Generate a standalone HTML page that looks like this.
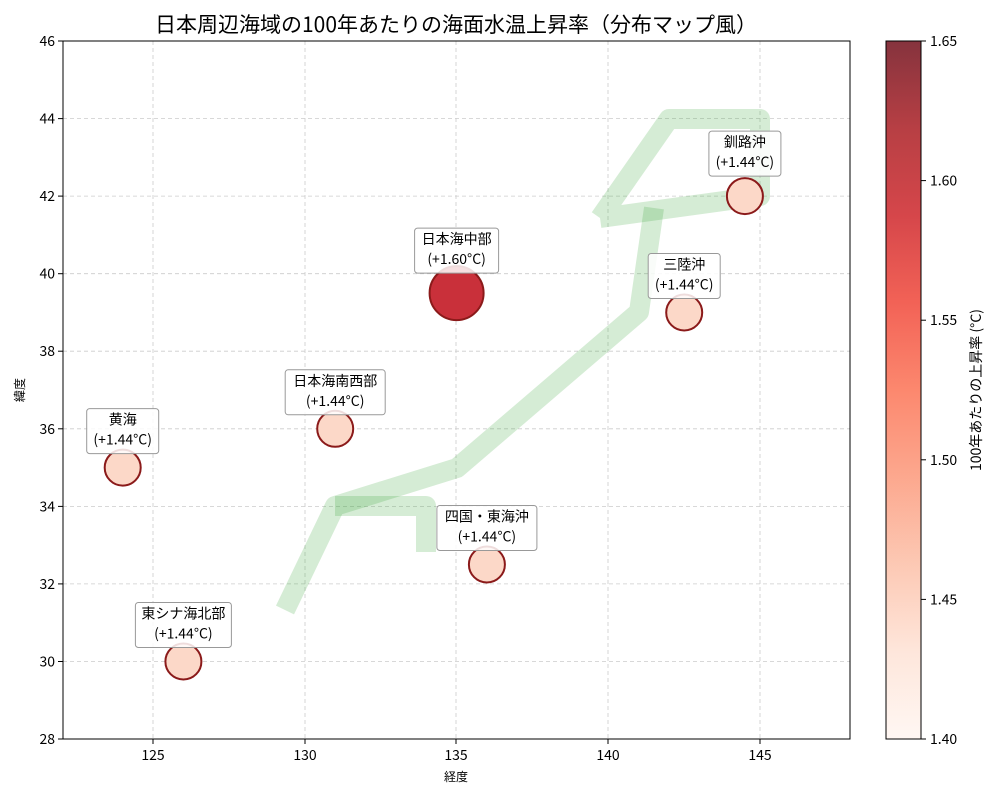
<!DOCTYPE html>
<html><head><meta charset="utf-8"><style>
html,body{margin:0;padding:0;background:#fff;}
svg{display:block;font-family:"Noto Sans CJK JP","Liberation Sans",sans-serif;}
</style></head><body>
<svg width="1000" height="800" viewBox="0 0 1000 800" xmlns="http://www.w3.org/2000/svg">
<defs>
<linearGradient id="cb" x1="0" y1="1" x2="0" y2="0">
<stop offset="0" stop-color="#fff5f0"/>
<stop offset="0.125" stop-color="#fee0d2"/>
<stop offset="0.25" stop-color="#fcbba1"/>
<stop offset="0.375" stop-color="#fc9272"/>
<stop offset="0.5" stop-color="#fb6a4a"/>
<stop offset="0.625" stop-color="#ef3b2c"/>
<stop offset="0.75" stop-color="#cb181d"/>
<stop offset="0.875" stop-color="#a50f15"/>
<stop offset="1" stop-color="#67000d"/>
</linearGradient>
</defs>
<text x="456" y="32" font-size="21" text-anchor="middle" fill="#000">日本周辺海域の100年あたりの海面水温上昇率（分布マップ風）</text>
<g stroke="#cccccc" stroke-width="0.8" stroke-dasharray="4,3">
<line x1="153" y1="41" x2="153" y2="739"/><line x1="305" y1="41" x2="305" y2="739"/><line x1="456" y1="41" x2="456" y2="739"/><line x1="608" y1="41" x2="608" y2="739"/><line x1="760" y1="41" x2="760" y2="739"/>
<line x1="63" y1="118.6" x2="850" y2="118.6"/><line x1="63" y1="196.1" x2="850" y2="196.1"/><line x1="63" y1="273.7" x2="850" y2="273.7"/><line x1="63" y1="351.2" x2="850" y2="351.2"/><line x1="63" y1="428.8" x2="850" y2="428.8"/><line x1="63" y1="506.4" x2="850" y2="506.4"/><line x1="63" y1="583.9" x2="850" y2="583.9"/><line x1="63" y1="661.5" x2="850" y2="661.5"/>
</g>
<g fill="none" stroke="rgb(44,160,44)" stroke-opacity="0.2" stroke-width="20" stroke-linejoin="round">
<polyline points="285,610 335,506 457,468 639,312 654,208"/>
<polyline points="600,218 669,119 760,119 760,196 600,218"/>
<polyline points="335,506 426,506 426,552"/>
</g>
<g stroke="#8b1a1a" stroke-width="2">
<circle cx="122.7" cy="467.6" r="18" fill="#fcd8c8"/>
<circle cx="183.4" cy="661.5" r="18" fill="#fcd8c8"/>
<circle cx="335.2" cy="428.8" r="18" fill="#fcd8c8"/>
<circle cx="486.9" cy="564.5" r="18" fill="#fcd8c8"/>
<circle cx="684.2" cy="312.5" r="18" fill="#fcd8c8"/>
<circle cx="744.9" cy="196.1" r="18" fill="#fcd8c8"/>
<circle cx="456.6" cy="293.1" r="27" fill="#c9303a"/>
</g>
<g font-size="14" text-anchor="middle" fill="#000">
<g transform="translate(122.7,467.6)"><rect x="-36" y="-59" width="72" height="45" rx="3" fill="#fff" fill-opacity="0.85" stroke="#999"/><text y="-43">黄海</text><text y="-23">(+1.44°C)</text></g>
<g transform="translate(183.4,661.5)"><rect x="-48" y="-59" width="96" height="45" rx="3" fill="#fff" fill-opacity="0.85" stroke="#999"/><text y="-43">東シナ海北部</text><text y="-23">(+1.44°C)</text></g>
<g transform="translate(335.2,428.8)"><rect x="-50" y="-59" width="100" height="45" rx="3" fill="#fff" fill-opacity="0.85" stroke="#999"/><text y="-43">日本海南西部</text><text y="-23">(+1.44°C)</text></g>
<g transform="translate(486.9,564.5)"><rect x="-50" y="-59" width="100" height="45" rx="3" fill="#fff" fill-opacity="0.85" stroke="#999"/><text y="-43">四国・東海沖</text><text y="-23">(+1.44°C)</text></g>
<g transform="translate(684.2,312.5)"><rect x="-36" y="-59" width="72" height="45" rx="3" fill="#fff" fill-opacity="0.85" stroke="#999"/><text y="-43">三陸沖</text><text y="-23">(+1.44°C)</text></g>
<g transform="translate(744.9,196.1)"><rect x="-36" y="-65" width="72" height="45" rx="3" fill="#fff" fill-opacity="0.85" stroke="#999"/><text y="-49">釧路沖</text><text y="-29">(+1.44°C)</text></g>
<g transform="translate(456.6,293.1)"><rect x="-42" y="-65" width="84" height="45" rx="3" fill="#fff" fill-opacity="0.85" stroke="#999"/><text y="-49">日本海中部</text><text y="-29">(+1.60°C)</text></g>
</g>
<rect x="63" y="41" width="787" height="698" fill="none" stroke="#000" stroke-width="1"/>
<g stroke="#000">
<line x1="153" y1="739" x2="153" y2="744"/><line x1="305" y1="739" x2="305" y2="744"/><line x1="456" y1="739" x2="456" y2="744"/><line x1="608" y1="739" x2="608" y2="744"/><line x1="760" y1="739" x2="760" y2="744"/>
<line x1="58" y1="41" x2="63" y2="41"/><line x1="58" y1="118.6" x2="63" y2="118.6"/><line x1="58" y1="196.1" x2="63" y2="196.1"/><line x1="58" y1="273.7" x2="63" y2="273.7"/><line x1="58" y1="351.2" x2="63" y2="351.2"/><line x1="58" y1="428.8" x2="63" y2="428.8"/><line x1="58" y1="506.4" x2="63" y2="506.4"/><line x1="58" y1="583.9" x2="63" y2="583.9"/><line x1="58" y1="661.5" x2="63" y2="661.5"/><line x1="58" y1="739" x2="63" y2="739"/>
</g>
<g font-size="14" fill="#000" text-anchor="middle">
<text x="153" y="760">125</text><text x="305" y="760">130</text><text x="456" y="760">135</text><text x="608" y="760">140</text><text x="760" y="760">145</text>
</g>
<g font-size="14" fill="#000" text-anchor="end">
<text x="55" y="46">46</text><text x="55" y="123.6">44</text><text x="55" y="201.1">42</text><text x="55" y="278.7">40</text><text x="55" y="356.2">38</text><text x="55" y="433.8">36</text><text x="55" y="511.4">34</text><text x="55" y="588.9">32</text><text x="55" y="666.5">30</text><text x="55" y="744">28</text>
</g>
<text x="456" y="781" font-size="12" text-anchor="middle">経度</text>
<text transform="translate(24,390) rotate(-90)" font-size="12" text-anchor="middle">緯度</text>
<rect x="886" y="41" width="35" height="698" fill="url(#cb)" opacity="0.8"/>
<rect x="886" y="41" width="35" height="698" fill="none" stroke="#000"/>
<g stroke="#000">
<line x1="921" y1="41" x2="926" y2="41"/><line x1="921" y1="180.6" x2="926" y2="180.6"/><line x1="921" y1="320.2" x2="926" y2="320.2"/><line x1="921" y1="459.8" x2="926" y2="459.8"/><line x1="921" y1="599.4" x2="926" y2="599.4"/><line x1="921" y1="739" x2="926" y2="739"/>
</g>
<g font-size="14" fill="#000">
<text x="930" y="46">1.65</text><text x="930" y="185.6">1.60</text><text x="930" y="325.2">1.55</text><text x="930" y="464.8">1.50</text><text x="930" y="604.4">1.45</text><text x="930" y="744">1.40</text>
</g>
<text transform="translate(981,390) rotate(-90)" font-size="14" text-anchor="middle">100年あたりの上昇率 (°C)</text>
</svg>
</body></html>
